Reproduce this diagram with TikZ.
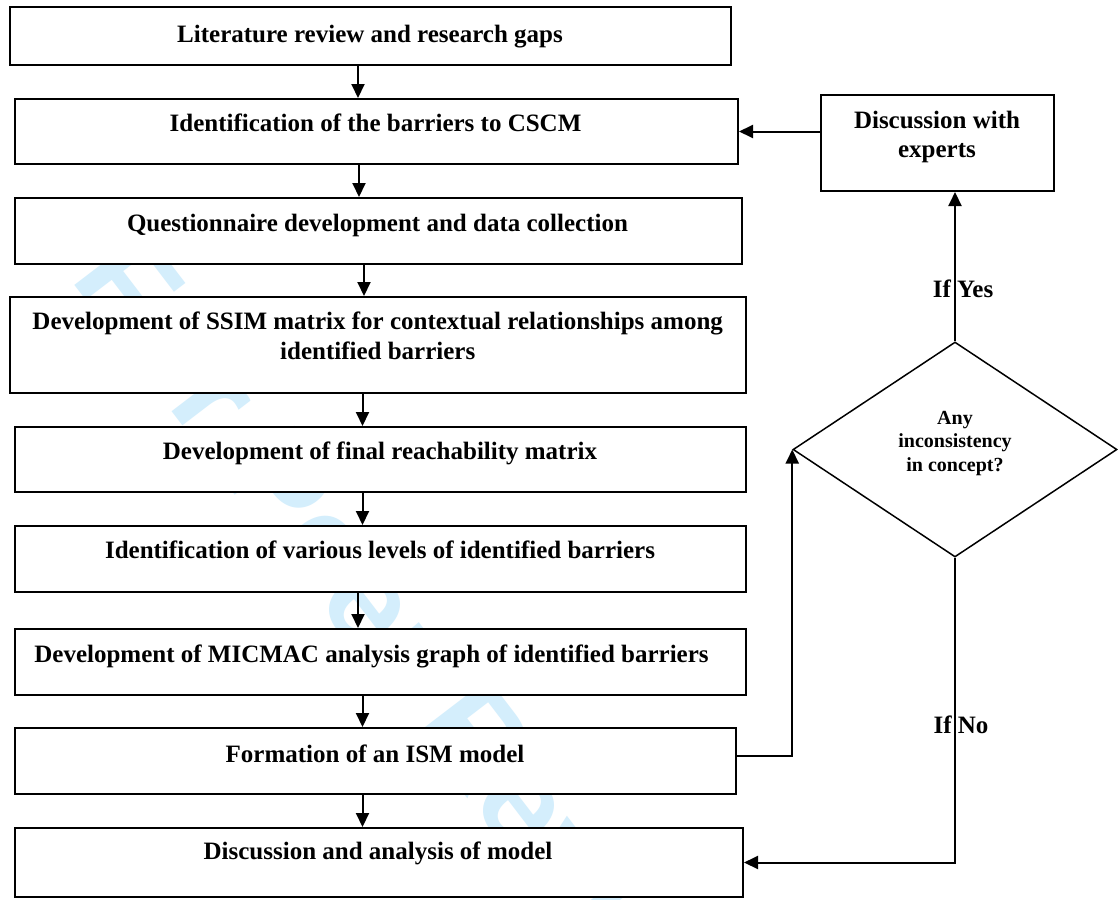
\documentclass[tikz,border=0pt]{standalone}
\usepackage{fontspec}
\setmainfont{Liberation Serif}
\newfontfamily\wmfont{Liberation Sans}
\usetikzlibrary{shapes.geometric,arrows.meta,calc}
\definecolor{wmcol}{RGB}{212,238,252}
\begin{document}
\begin{tikzpicture}[x=1pt,y=-1pt,
  box/.style={draw, rectangle, line width=2pt, fill=white, inner sep=0pt},
  lbl/.style={font=\fontsize{25}{30}\selectfont\bfseries, anchor=base, inner sep=0pt},
  small/.style={font=\fontsize{20}{24}\selectfont\bfseries, anchor=base, inner sep=0pt},
  arr/.style={line width=2pt, -{Triangle[length=14pt,width=13pt]}}]
\useasboundingbox[fill=white] (0,0) rectangle (1118,899);
% watermark
\begin{scope}
\clip (0,0) rectangle (1118,899);
\node[text=wmcol, font=\wmfont\bfseries\fontsize{130}{130}\selectfont, rotate=-52.6, inner sep=0pt] (wm) at (414,652) {For Peer Review};
\end{scope}
% boxes
\node[box, minimum width=721.4pt, minimum height=58pt] (b1) at (370.3,36) {};
\node[box, minimum width=723.4pt, minimum height=65pt] (b2) at (376.3,131.5) {};
\node[box, minimum width=727.4pt, minimum height=66pt] (b3) at (378.3,231) {};
\node[box, minimum width=736.4pt, minimum height=96pt] (b4) at (377.8,345) {};
\node[box, minimum width=731.4pt, minimum height=65pt] (b5) at (380.3,459.5) {};
\node[box, minimum width=731.4pt, minimum height=66pt] (b6) at (380.3,559) {};
\node[box, minimum width=731.4pt, minimum height=66pt] (b7) at (380.3,662) {};
\node[box, minimum width=721.4pt, minimum height=66pt] (b8) at (375.3,761) {};
\node[box, minimum width=728.4pt, minimum height=69pt] (b9) at (378.8,862.5) {};
\node[box, minimum width=232.6pt, minimum height=96pt] (exp) at (937.3,143) {};
\node[draw, diamond, line width=1.5pt, fill=white, inner sep=0pt, aspect=1.5,
      minimum width=324pt, minimum height=215pt] (d) at (955,449.5) {};
% texts
\node[lbl] (t1) at (370,42) {Literature review and research gaps};
\node[lbl] (t2) at (375.5,131.7) {Identification of the barriers to CSCM};
\node[lbl] (t3) at (377.5,231.7) {Questionnaire development and data collection};
\node[lbl] (t4a) at (377.7,329) {Development of SSIM matrix for contextual relationships among};
\node[lbl] (t4b) at (377.7,359) {identified barriers};
\node[lbl] (t5) at (380,459) {Development of final reachability matrix};
\node[lbl] (t6) at (380,558) {Identification of various levels of identified barriers};
\node[lbl] (t7) at (371.5,662) {Development of MICMAC analysis graph of identified barriers};
\node[lbl] (t8) at (375,762) {Formation of an ISM model};
\node[lbl] (t9) at (378,859) {Discussion and analysis of model};
\node[lbl] (te1) at (937,128) {Discussion with};
\node[lbl] (te2) at (937,157) {experts};
\node[small] (td1) at (955,424) {Any};
\node[small] (td2) at (955,447.5) {inconsistency};
\node[small] (td3) at (955,471) {in concept?};
\node[lbl] (ly) at (963,297) {If Yes};
\node[lbl] (ln) at (961,733) {If No};
% arrow columns
\coordinate (c1) at (358,0);
\coordinate (c2) at (359,0);
\coordinate (c3) at (364,0);
\coordinate (c4) at (362.5,0);
\coordinate (c5) at (362.5,0);
\coordinate (c6) at (358,0);
\coordinate (c7) at (362.5,0);
\coordinate (c8) at (362.5,0);
\draw[arr] (b1.south -| c1) -- (b2.north -| c1);
\draw[arr] (b2.south -| c2) -- (b3.north -| c2);
\draw[arr] (b3.south -| c3) -- (b4.north -| c3);
\draw[arr] (b4.south -| c4) -- (b5.north -| c4);
\draw[arr] (b5.south -| c5) -- (b6.north -| c5);
\draw[arr] (b6.south -| c6) -- (b7.north -| c6);
\draw[arr] (b7.south -| c7) -- (b8.north -| c7);
\draw[arr] (b8.south -| c8) -- (b9.north -| c8);
% side connectors
\draw[arr] (exp.west |- b2.east) -- (b2.east);
\draw[arr] (d.north) -- (d.north |- exp.south);
\draw[arr] ([yshift=5pt]b8.east) -| (d.west);
\draw[arr] (d.south) |- (b9.east);
\end{tikzpicture}
\end{document}
